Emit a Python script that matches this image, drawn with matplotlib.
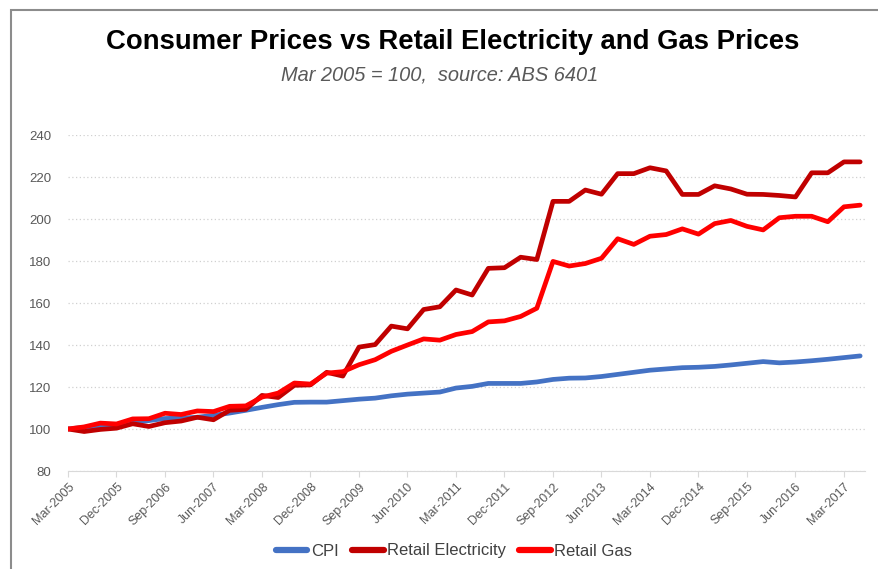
import numpy as np
import matplotlib.pyplot as plt
from matplotlib.patches import Rectangle

plt.rcParams.update({
    "font.family": ["Liberation Sans", "DejaVu Sans"],
    "font.size": 9,
})

# quarterly, Mar-2005 .. Jun-2017, Mar 2005 = 100
cpi = [100.0, 100.8, 101.4, 102.0, 103.0, 104.0, 105.0, 105.2, 105.6, 106.5,
       107.6, 108.9, 110.3, 111.6, 112.7, 112.8, 112.8, 113.5, 114.2, 114.7,
       115.8, 116.6, 117.1, 117.6, 119.5, 120.3, 121.7, 121.7, 121.7, 122.4,
       123.6, 124.2, 124.3, 125.0, 126.0, 127.0, 128.0, 128.6, 129.2, 129.4,
       129.8, 130.5, 131.3, 132.1, 131.5, 131.9, 132.5, 133.2, 134.0, 134.8]
elec = [100.0, 98.8, 99.8, 100.4, 102.5, 101.2, 103.0, 103.8, 105.6, 104.4,
        108.9, 109.4, 116.0, 115.0, 120.8, 121.0, 127.0, 125.2, 139.0, 140.2,
        149.0, 147.7, 156.9, 158.2, 166.2, 163.8, 176.5, 176.8, 181.8, 180.7,
        208.4, 208.4, 213.8, 211.8, 221.6, 221.6, 224.4, 222.9, 211.7, 211.7,
        215.8, 214.3, 211.8, 211.7, 211.2, 210.5, 222.0, 222.0, 227.2, 227.2]
gas = [100.0, 101.0, 102.8, 102.4, 104.8, 104.9, 107.5, 106.9, 108.6, 108.3,
       110.8, 111.0, 115.2, 117.1, 121.9, 121.4, 126.6, 127.3, 130.6, 133.0,
       137.0, 140.0, 142.9, 142.3, 145.0, 146.4, 151.0, 151.5, 153.6, 157.5,
       179.8, 177.6, 178.8, 181.3, 190.6, 187.9, 191.8, 192.6, 195.3, 192.8,
       197.8, 199.3, 196.5, 194.8, 200.6, 201.3, 201.3, 198.7, 205.8, 206.6]

tick_labels = ["Mar-2005", "Dec-2005", "Sep-2006", "Jun-2007", "Mar-2008",
               "Dec-2008", "Sep-2009", "Jun-2010", "Mar-2011", "Dec-2011",
               "Sep-2012", "Jun-2013", "Mar-2014", "Dec-2014", "Sep-2015",
               "Jun-2016", "Mar-2017"]

fig = plt.figure(figsize=(8.79, 5.69), dpi=100)
fig.patches.append(Rectangle((11 / 879, -0.1), 1.2, 1.1 - 10 / 569,
                             transform=fig.transFigure, fill=False,
                             edgecolor="#8c8c8c", linewidth=1.5))

ax = fig.add_axes([68 / 879, 1 - 471 / 569, (865 - 68) / 879, (471 - 135) / 569])
x = np.arange(len(cpi))
ax.plot(x, cpi, color="#4472C4", lw=3.4, label="CPI", solid_capstyle="round")
ax.plot(x, elec, color="#C00000", lw=3.4, label="Retail Electricity", solid_capstyle="round")
ax.plot(x, gas, color="#FF0000", lw=3.4, label="Retail Gas", solid_capstyle="round")

ax.set_xlim(0, 49.3)
ax.set_ylim(80, 240)
ax.set_yticks(np.arange(80, 241, 20))
ax.yaxis.grid(True, color="#d0d0d0", linestyle=(0, (1, 2)), linewidth=0.9)
ax.set_axisbelow(True)
ax.set_xticks(np.arange(0, len(cpi), 3))
ax.set_xticklabels(tick_labels, rotation=45, ha="right", rotation_mode="anchor",
                   color="#595959", fontsize=9)
ax.tick_params(axis="y", length=0, colors="#595959", labelsize=9.5, pad=12)
ax.tick_params(axis="x", length=4, color="#d9d9d9", pad=3)
for s in ["top", "right", "left"]:
    ax.spines[s].set_visible(False)
ax.spines["bottom"].set_color("#d9d9d9")

fig.text(453 / 879, 1 - 42 / 569, "Consumer Prices vs Retail Electricity and Gas Prices",
         ha="center", va="center", fontsize=19.8, fontweight="bold")
fig.text(440 / 879, 1 - 75 / 569, "Mar 2005 = 100,  source: ABS 6401",
         ha="center", va="center", fontsize=14.4, style="italic", color="#595959")

leg = fig.legend(loc="center", bbox_to_anchor=(454 / 879, 1 - 551 / 569), ncol=3,
                 frameon=False, fontsize=12, handlelength=1.9, handletextpad=0.2,
                 columnspacing=0.8, labelcolor="#404040")
for h in leg.get_lines():
    h.set_linewidth(4.5)

fig.savefig("out.png", dpi=100)
